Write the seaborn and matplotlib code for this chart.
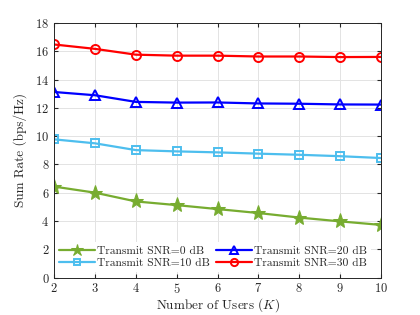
import matplotlib
matplotlib.use('Agg')
import matplotlib.pyplot as plt
import numpy as np
import pandas as pd
import seaborn as sns

sns.set_style('whitegrid')
plt.rcParams['font.family'] = ['cmr10', 'DejaVu Serif']
plt.rcParams['mathtext.fontset'] = 'cm'
plt.rcParams['axes.formatter.use_mathtext'] = True

users = [2, 3, 4, 5, 6, 7, 8, 9, 10]
snr_0 = [6.43, 6.0, 5.38, 5.12, 4.84, 4.56, 4.24, 3.97, 3.72]
snr_10 = [9.77, 9.49, 9.01, 8.92, 8.85, 8.76, 8.68, 8.58, 8.45]
snr_20 = [13.12, 12.89, 12.42, 12.37, 12.38, 12.31, 12.29, 12.24, 12.23]
snr_30 = [16.48, 16.17, 15.76, 15.69, 15.69, 15.63, 15.63, 15.59, 15.6]

labels = ['Transmit SNR=0 dB', 'Transmit SNR=10 dB',
          'Transmit SNR=20 dB', 'Transmit SNR=30 dB']
series = [snr_0, snr_10, snr_20, snr_30]
colors = ['#77AC30', '#4DBEEE', '#0000FF', '#FF0000']
markers = ['*', 's', '^', 'o']

fig = plt.figure(figsize=(4.2, 3.15), dpi=100)
ax = fig.add_axes([0.129, 0.119, 0.778, 0.808])

for y, lab, c, m in zip(series, labels, colors, markers):
    if m == '*':
        sns.lineplot(x=users, y=y, ax=ax, color=c, marker=m, markersize=11,
                     markeredgecolor=c, markerfacecolor=c, linewidth=1.6, label=lab)
    else:
        sns.lineplot(x=users, y=y, ax=ax, color=c, marker=m,
                     markersize=6.5 if m != 's' else 5.5,
                     markeredgecolor=c, markerfacecolor='none', markeredgewidth=1.4,
                     linewidth=1.6, label=lab)

ax.set_xlim(2, 10)
ax.set_ylim(0, 18)
ax.set_xticks(range(2, 11))
ax.set_yticks(range(0, 19, 2))
ax.set_xlabel('Number of Users ($K$)', fontsize=9.5, labelpad=0)
ax.set_ylabel('Sum Rate (bps/Hz)', fontsize=9.5, labelpad=6)
ax.tick_params(axis='both', which='both', direction='in', length=3, labelsize=9,
               top=True, right=True, bottom=True, left=True, color='#262626', pad=3.5)
ax.grid(True, color='#e3e3e3', linewidth=0.7)
for s in ax.spines.values():
    s.set_color('#262626')
    s.set_linewidth(0.7)

leg = ax.legend(ncol=2, loc='lower left', bbox_to_anchor=(0.003, 0.02), frameon=True,
                fancybox=False, fontsize=8.3, handlelength=3.1, columnspacing=0.5,
                handletextpad=0.2, labelspacing=0.2, borderaxespad=0, borderpad=0.35,
                markerscale=0.8)
leg.get_frame().set_edgecolor('none')
leg.get_frame().set_facecolor('white')
leg.get_frame().set_alpha(1)

fig.savefig('out.png', dpi=100)
